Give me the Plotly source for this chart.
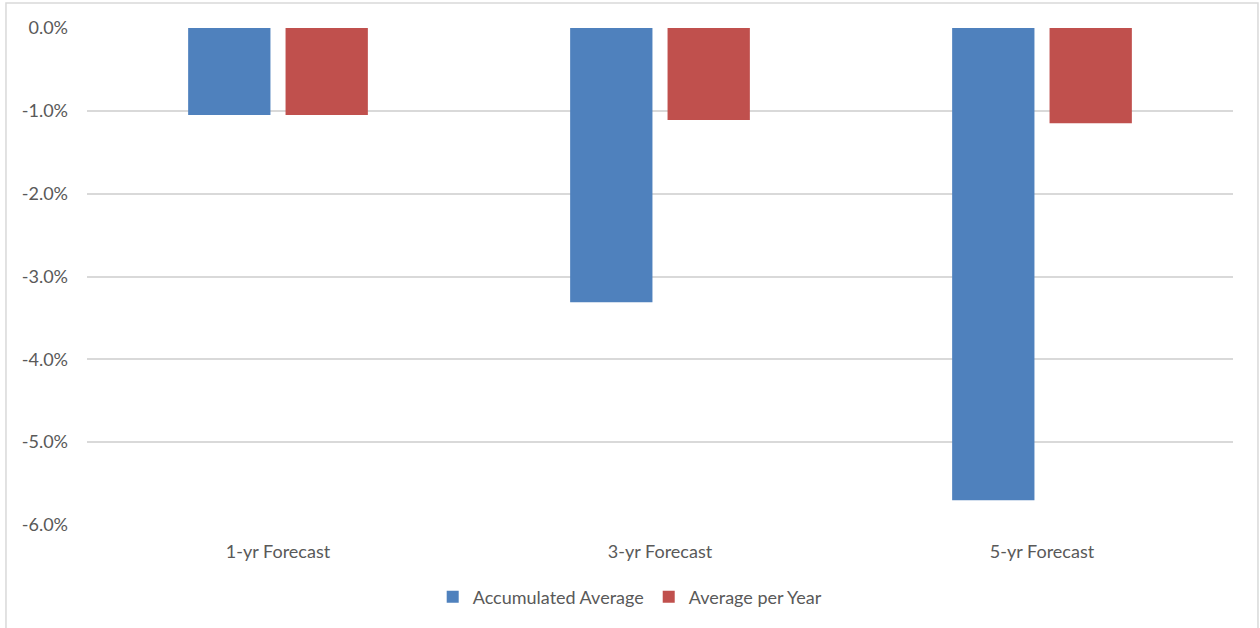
import plotly.graph_objects as go

categories = ["1-yr Forecast", "3-yr Forecast", "5-yr Forecast"]
accumulated = [-0.0105, -0.0331, -0.0570]
per_year = [-0.0105, -0.0111, -0.0115]
tick_vals = [0, -0.01, -0.02, -0.03, -0.04, -0.05, -0.06]
tick_text = ["0.0%", "-1.0%", "-2.0%", "-3.0%", "-4.0%", "-5.0%", "-6.0%"]

font_family = "Lato, 'Open Sans', sans-serif"
txt = "#595959"

fig = go.Figure()
fig.add_trace(go.Bar(name="Accumulated Average", x=categories, y=accumulated,
                     marker=dict(color="#4F81BD", line=dict(width=0))))
fig.add_trace(go.Bar(name="Average per Year", x=categories, y=per_year,
                     marker=dict(color="#C0504D", line=dict(width=0))))

fig.update_layout(
    width=1260, height=628,
    margin=dict(l=87, r=27, t=28, b=103),
    paper_bgcolor="white", plot_bgcolor="white",
    barmode="group", bargap=0.49, bargroupgap=0.155,
    font=dict(family=font_family, size=18, color=txt),
    showlegend=True,
    legend=dict(orientation="h", x=0.474, xanchor="center", y=-0.145, yanchor="middle",
                font=dict(size=18, color=txt), itemwidth=30, traceorder="normal"),
    xaxis=dict(showgrid=False, showline=False, ticks="", ticklabelstandoff=14,
               tickfont=dict(size=18, color=txt)),
    yaxis=dict(range=[-0.06, 0], tickvals=tick_vals, ticktext=tick_text,
               showgrid=True, gridcolor="#D9D9D9", gridwidth=1.5,
               zeroline=False, showline=False, ticks="", ticklabelstandoff=18,
               tickfont=dict(size=18, color=txt)),
    shapes=[dict(type="rect", xref="paper", yref="paper",
                 x0=-0.0707, x1=1.0218, y0=-0.3, y1=1.0503,
                 line=dict(color="#D9D9D9", width=1.5), fillcolor="rgba(0,0,0,0)",
                 layer="below")],
)

fig.write_html("out.html")
